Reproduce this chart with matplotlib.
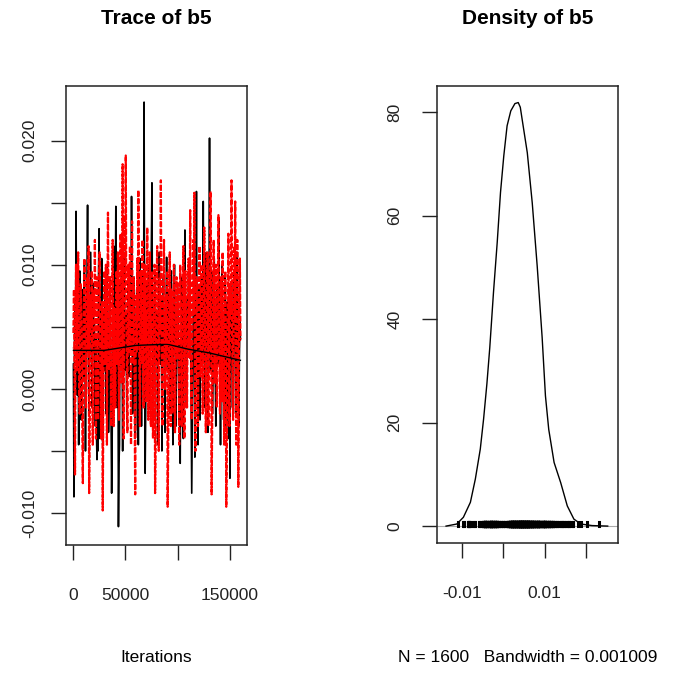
import numpy as np
import matplotlib
matplotlib.use("Agg")
import matplotlib.pyplot as plt

plt.rcParams['font.family'] = ['Liberation Sans', 'DejaVu Sans']

# MCMC samples of b5, two chains, thinned every 500 iterations (values in 1e-4 units)
iterations = np.arange(500, 160001, 500)

chain1 = [
    20, -87, 35, 70, 40, 143, 60, -5, 85, 50, -45, 30, 95, 65, 20, -25, 40, 80, 55, 10,
    70, 100, 45, -50, 25, 60, 90, 148, 50, 0, -20, 35, 75, 110, 60, 20, -15, 45, 85, 30,
    55, 10, -30, 40, -35, -57, 20, -50, 95, 129, 45, -40, 30, 70, 105, 55, -45, 25, 60, 15,
    85, 40, -20, 50, 100, 70, 25, -35, -10, 60, 90, 45, -30, -84, -40, 20, 65, 115, 50, 30,
    75, 147, 60, -15, 10, 45, -111, -60, -45, 85, 55, 20, 95, 40, -50, 35, 70, 110, 50, 15,
    60, 25, -25, 40, 85, 65, 10, 45, 100, 75, 30, 155, 55, -20, 5, 50, 90, 35, -40, -30,
    45, 80, 60, 20, -45, 35, 70, 105, 50, 15, -30, 25, 65, 95, 40, 231, 30, -68, -20, 45,
    85, 55, 15, 100, 60, 25, -15, 40, 75, 120, 166, 50, -5, -25, 35, 70, 95, 45, 20, 60,
    30, -45, 50, 85, 110, 65, 20, 40, 75, -50, 25, 60, 90, 45, 10, -35, 30, 70, 106, 55,
    15, 45, 80, 35, -20, 0, 55, 95, 65, 25, -45, 40, 75, 100, 50, 20, -30, 30, 60, 85,
    45, 10, -25, 35, -60, 15, 55, 90, 70, 30, -40, 50, 85, 128, 60, 20, -15, 40, 75, 45,
    95, 55, 25, 80, 40, -20, -84, -30, 20, 65, 100, 50, -55, 35, 75, 159, 60, 15, -45, 45,
    80, 30, -25, 50, 90, 65, 20, 40, 151, 70, 25, -15, 35, 85, 110, 55, -10, -35, 30, 65,
    202, 45, 15, 60, 95, 40, -20, 25, 70, 105, 50, 10, -30, 35, 80, 60, 20, 45, 136, 55,
    25, -45, 40, 75, 100, 50, 15, -25, 30, 65, 90, 45, -30, 35, 70, 20, -40, 10, 55, -72,
    30, 60, 85, 40, -15, 20, 50, 95, 65, 25, -20, 35, 70, 110, 45, 5, -30, 25, 55, 40,
]

chain2 = [
    45, 80, 20, -69, 35, 100, 60, 15, 75, 110, 50, -5, -20, 40, 85, 65, 25, -30, -76, 30,
    70, 105, 55, 20, -15, 45, 90, 60, 30, 115, -84, -35, 25, 75, 50, 95, 10, -45, 40, 80,
    60, 120, 35, -40, 55, 90, 25, -25, 45, 85, 110, 40, 0, -40, 30, 70, -98, -20, 50, 95,
    65, 20, 100, 40, -45, 75, 142, 55, 15, 35, 90, 60, -30, 25, 80, 120, 45, -30, 65, 30,
    -15, 50, 95, 70, 20, 110, 40, -25, 60, 85, 125, 35, 5, 75, 181, 50, -40, 45, 140, 90,
    188, 65, 25, -35, 55, 100, 80, 30, 115, 45, -45, 70, 135, 60, 20, 90, 50, -20, -85, 40,
    75, 30, 105, 55, 160, 85, 15, -30, 40, 95, 65, 20, 120, 45, -15, 70, 100, 35, 60, -10,
    85, 130, 50, -25, 25, 65, 110, 40, -30, 75, 95, 55, -40, 20, 60, 100, -84, -45, 35, 80,
    115, 60, 25, -50, 50, 90, 45, 168, 70, 15, -30, 40, 85, 120, 55, 0, 35, 75, 30, 95,
    -95, -50, 20, 65, 110, 45, -30, 80, 55, -20, 30, 70, 100, 40, -35, 15, 60, 90, 25, 50,
    85, 40, -45, 55, 100, 70, 20, -30, 45, 80, 115, 35, -40, 60, 95, 50, 15, -15, 40, 75,
    105, 55, 25, 144, 70, -5, -25, 45, 85, 120, 60, 158, 30, -50, 50, 90, 65, 20, -30, 40,
    80, 115, 45, 10, 60, 100, 35, -20, 25, 70, 130, 55, 15, -35, 40, 85, 110, 50, -30, 65,
    95, 30, 159, 60, -85, -30, 20, 75, 120, 45, 5, 55, 100, 70, -15, 35, 80, 140, 50, 25,
    -20, 45, 90, 60, -10, 110, 75, 30, -45, 55, 95, 40, -95, -45, 25, 70, 125, 50, -30, 85,
    60, 100, 168, 45, 15, -25, 70, 115, 55, 151, 35, -45, 80, 120, 50, -79, 20, 65, 105, 40,
]

# lowess smooths of each chain
smooth_iter = [500, 30000, 60000, 90000, 110000, 130000, 160000]
smooth1 = [0.0031, 0.0031, 0.0035, 0.0036, 0.0032, 0.0029, 0.0023]
smooth2 = [0.0033, 0.0035, 0.0038, 0.0037, 0.0036, 0.0037, 0.0039]

# kernel density estimate of the pooled samples
dens_x = [-0.0139, -0.0113, -0.0097, -0.0080, -0.0068, -0.0056, -0.0048, -0.0040,
          -0.0033, -0.0024, -0.0015, -0.0007, 0.0001, 0.0009, 0.0018, 0.0028, 0.0036,
          0.0041, 0.00456, 0.0058, 0.0070, 0.0082, 0.0094, 0.0102, 0.0110, 0.0123,
          0.0139, 0.0155, 0.0171, 0.0188, 0.0215, 0.0253]
dens_y = [0.0, 0.4, 1.7, 4.6, 9.1, 14.9, 20.7, 27.5,
          34.5, 45.2, 54.8, 64.5, 71.6, 77.4, 80.3, 81.7, 81.9,
          81.0, 78.6, 72.2, 62.5, 50.3, 36.5, 25.2, 18.7, 12.3,
          8.4, 3.9, 1.35, 0.4, 0.1, 0.0]

n_samples = 1600
bandwidth = 0.001009
param = "b5"

v1 = np.array(chain1) * 1e-4
v2 = np.array(chain2) * 1e-4
pooled = np.concatenate([v1, v2])

W, H = 677, 673
fig = plt.figure(figsize=(W / 100, H / 100), dpi=100)
fig.patch.set_facecolor("white")

def px_axes(x0, x1, y0, y1):
    return fig.add_axes([x0 / W, 1 - y1 / H, (x1 - x0) / W, (y1 - y0) / H])

tick_fs = 12.5
title_fs = 15

# ---------- trace plot ----------
ax1 = px_axes(66, 247, 86, 545)
ax1.plot(iterations, v1, color="black", lw=1.2)
ax1.plot(iterations, v2, color="red", lw=1.6, dashes=(2.5, 0.8))
ax1.plot(smooth_iter, smooth1, color="black", lw=1.0)
ax1.plot(smooth_iter, smooth2, color="red", lw=1.0)
ax1.set_xlim(-6600, 166300)
ax1.set_ylim(-0.01258, 0.0244)
ax1.set_xticks([0, 50000, 100000, 150000])
ax1.set_xticklabels(["0", "50000", "", "150000"])
ax1.set_yticks([-0.010, -0.005, 0.0, 0.005, 0.010, 0.015, 0.020])
ax1.set_yticklabels(["-0.010", "", "0.000", "", "0.010", "", "0.020"])
ax1.tick_params(axis="y", length=11, width=1.0, pad=9.5, labelsize=tick_fs,
                labelrotation=90, colors="#222222")
ax1.tick_params(axis="x", length=11, width=1.0, pad=20, labelsize=tick_fs,
                colors="#222222")
for lab in ax1.get_yticklabels():
    lab.set_va("center")

# ---------- density plot ----------
ax2 = px_axes(437, 618, 86, 543)
ax2.axhline(0, color="#aaaaaa", lw=0.8)
ax2.plot(dens_x, dens_y, color="black", lw=1.0)
rug_h = max(dens_y) / 100
ax2.vlines(pooled, 0, rug_h, color="black", lw=2.2, capstyle="projecting")
ax2.set_xlim(-0.0161, 0.0278)
ax2.set_ylim(-3.27, 85.1)
ax2.set_xticks([-0.01, 0.0, 0.01, 0.02])
ax2.set_xticklabels(["-0.01", "", "0.01", ""])
ax2.set_yticks([0, 20, 40, 60, 80])
ax2.set_yticklabels(["0", "20", "40", "60", "80"])
ax2.tick_params(axis="y", length=11, width=1.0, pad=14, labelsize=tick_fs,
                labelrotation=90, colors="#222222")
ax2.tick_params(axis="x", length=11, width=1.0, pad=20, labelsize=tick_fs,
                colors="#222222")
for lab in ax2.get_yticklabels():
    lab.set_va("center")

for ax in (ax1, ax2):
    for s in ax.spines.values():
        s.set_linewidth(1.1)
        s.set_color("#222222")

# titles and axis captions
fig.text((66 + 247) / 2 / W, 1 - 18 / H, f"Trace of {param}", ha="center", va="center",
         fontsize=title_fs, fontweight="bold")
fig.text((437 + 618) / 2 / W, 1 - 18 / H, f"Density of {param}", ha="center", va="center",
         fontsize=title_fs, fontweight="bold")
fig.text((66 + 247) / 2 / W, 1 - 658 / H, "Iterations", ha="center", va="center",
         fontsize=tick_fs)
fig.text((437 + 618) / 2 / W, 1 - 658 / H,
         f"N = {n_samples}   Bandwidth = {bandwidth}", ha="center", va="center",
         fontsize=tick_fs)

fig.savefig("out.png", dpi=100, facecolor="white")
